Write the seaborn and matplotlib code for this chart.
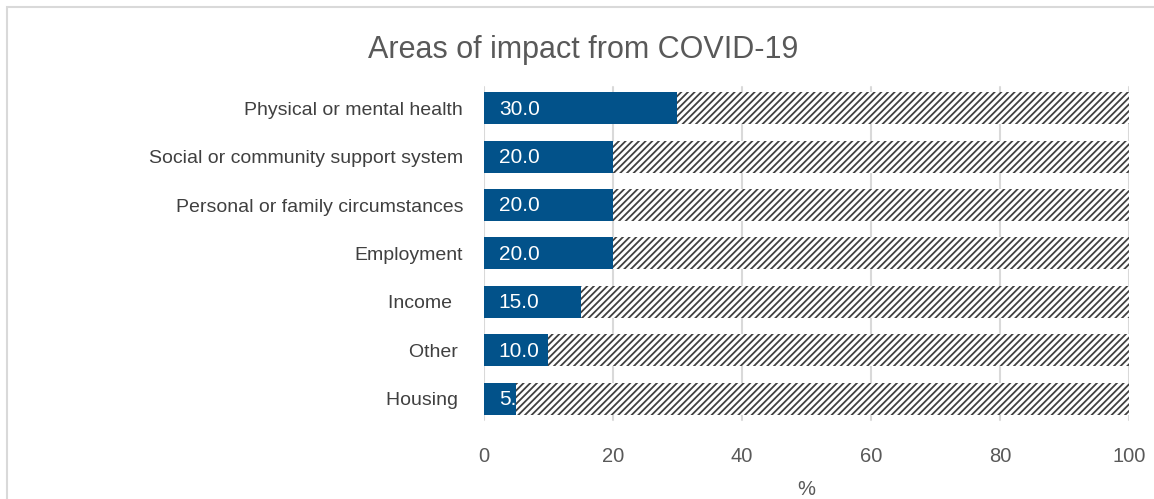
import matplotlib
matplotlib.use("Agg")
import matplotlib.pyplot as plt
import seaborn as sns
import pandas as pd
from matplotlib.patches import Rectangle

categories = [
    "Physical or mental health",
    "Social or community support system",
    "Personal or family circumstances",
    "Employment",
    "Income  ",
    "Other ",
    "Housing ",
]
values = [30.0, 20.0, 20.0, 20.0, 15.0, 10.0, 5.0]
totals = [100, 100, 100, 100, 100, 100, 100]
xticks = [0, 20, 40, 60, 80, 100]

sns.set_theme(style="white")
plt.rcParams["font.family"] = ["Liberation Sans", "DejaVu Sans"]
plt.rcParams["hatch.linewidth"] = 1.3
plt.rcParams["hatch.color"] = "#404040"

df = pd.DataFrame({"category": categories, "value": values, "total": totals})

fig = plt.figure(figsize=(11.54, 4.99), dpi=100)
ax = fig.add_axes([0.4194, 0.152, 0.9783 - 0.4194, 0.832 - 0.152])

# light frame around the chart area
fig.patches.append(Rectangle((7 / 1154, -0.05), 1.2, 1 - 7 / 499 + 0.05,
                             transform=fig.transFigure, fill=False,
                             edgecolor="#d9d9d9", linewidth=1.5))

for x in xticks:
    ax.axvline(x, color="#d9d9d9", linewidth=1.5, zorder=0, ymin=0.01, ymax=0.99)

# hatched background bar spanning the full 100 %
sns.barplot(data=df, y="category", x="total", orient="h", ax=ax,
            color="white", edgecolor="#404040", linewidth=0, hatch="/////",
            width=0.66, saturation=1, zorder=1)
n_bg = len(ax.patches)
sns.barplot(data=df, y="category", x="value", orient="h", ax=ax,
            color="#02528a", linewidth=0, width=0.66, saturation=1, zorder=2)

value_bars = ax.patches[n_bg:]
for bar, v in zip(value_bars, values):
    y = bar.get_y() + bar.get_height() / 2
    t = ax.text(bar.get_x() + 2.3, y + 0.02, f"{v:.1f}", color="white",
                fontsize=15, ha="left", va="center", zorder=3)
    # value text stays inside its bar
    clip = Rectangle((bar.get_x(), bar.get_y()), bar.get_width(), bar.get_height(),
                     transform=ax.transData)
    t.set_clip_path(clip)
    t.set_clip_on(True)

ax.set_xlim(0, 100)
ax.set_ylim(6.5, -0.5)
ax.set_xticks(xticks)
ax.set_xticklabels([str(x) for x in xticks], fontsize=14.5, color="#595959")
ax.tick_params(axis="x", length=0, pad=17)
ax.tick_params(axis="y", length=0, pad=15, labelsize=14, labelcolor="#404040")
ax.set_ylabel("")
ax.set_xlabel("%", fontsize=14.5, color="#595959", labelpad=10)
for s in ax.spines.values():
    s.set_visible(False)

fig.text(0.505, 0.9, "Areas of impact from COVID-19", fontsize=22,
         color="#595959", ha="center", va="center")

fig.savefig("out.png", dpi=100)
